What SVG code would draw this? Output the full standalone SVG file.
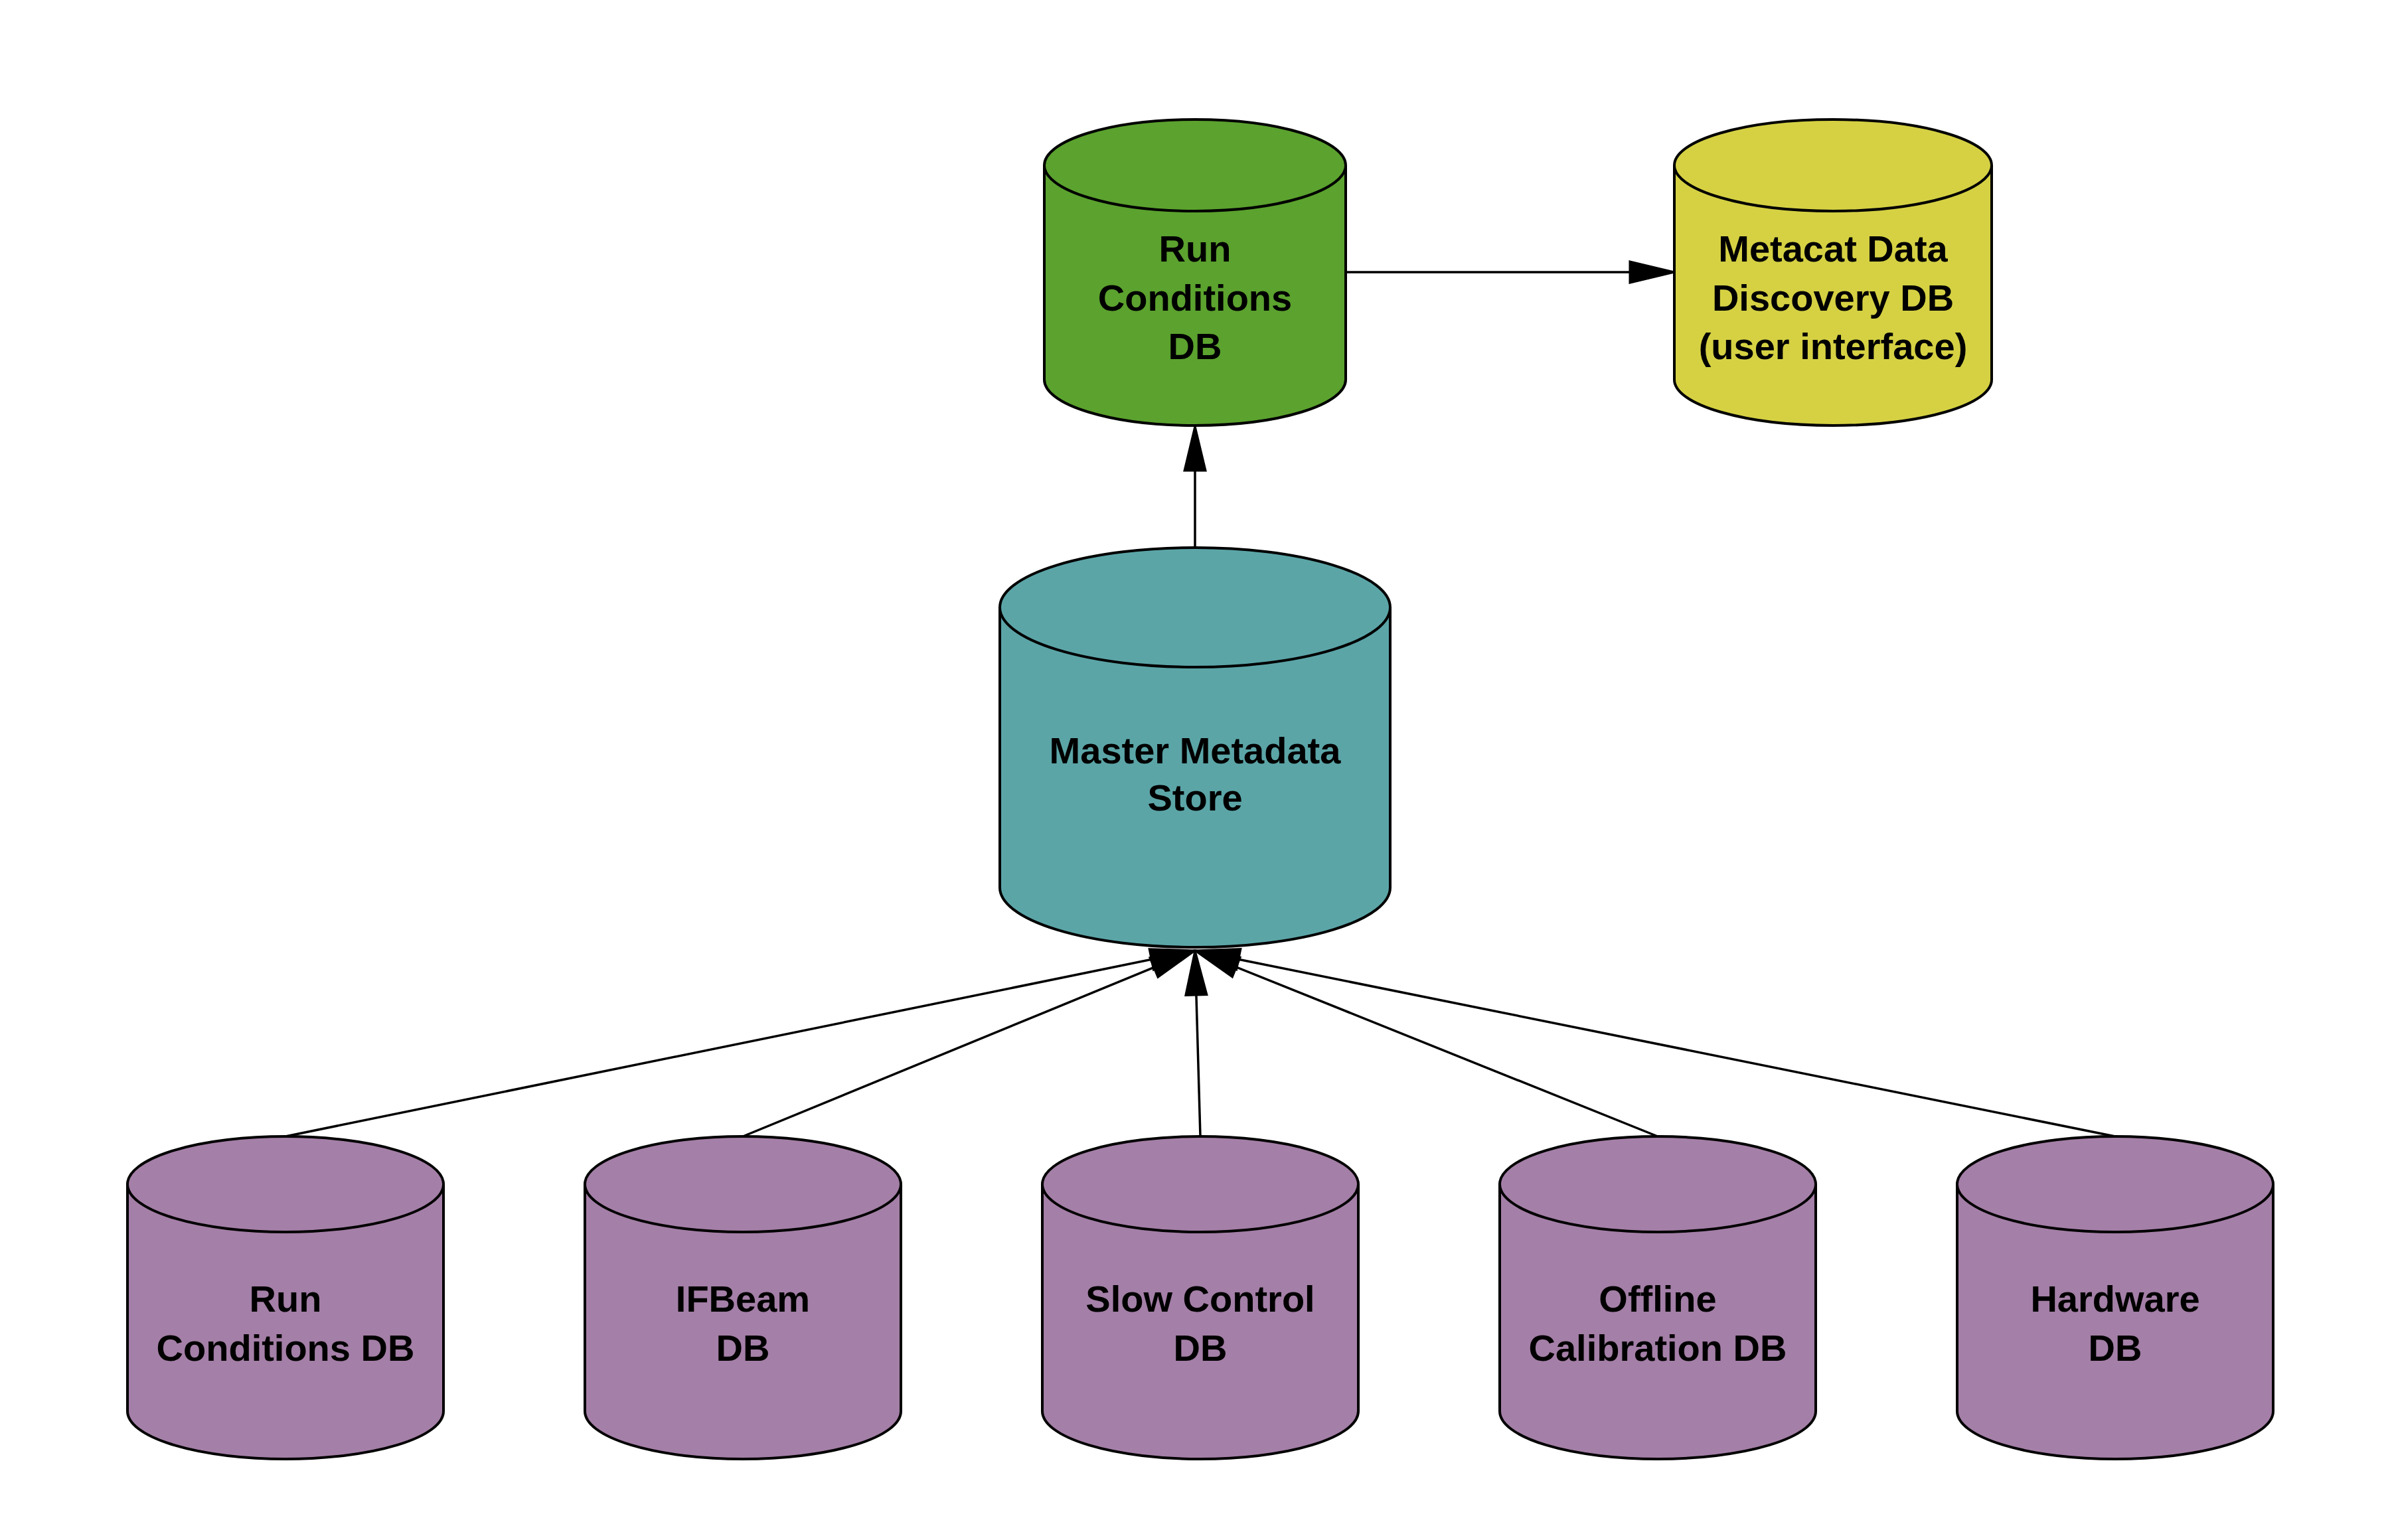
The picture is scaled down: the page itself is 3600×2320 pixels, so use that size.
<svg xmlns="http://www.w3.org/2000/svg" width="3600" height="2320" viewBox="0 0 3600 2320">
<defs>
<style>
.cyl{stroke:#000;stroke-width:4;stroke-linejoin:round}
.cap{fill:none;stroke:#000;stroke-width:4}
.green{fill:#5ba22e}
.yellow{fill:#d5d143}
.teal{fill:#5ba5a7}
.purple{fill:#a47fa7}
.lbl{font-family:"Liberation Sans",Arial,Helvetica,sans-serif;font-weight:bold;font-size:56px;fill:#000;text-anchor:middle}
.edge{stroke:#000;stroke-width:3.5;fill:none}
</style>
<marker id="arr" markerUnits="userSpaceOnUse" markerWidth="80" markerHeight="44" refX="70" refY="22" orient="auto">
<path d="M3,6 L70,22 L3,38 Z" fill="#000" stroke="#000" stroke-width="3"/>
</marker>
</defs>
<rect width="3600" height="2320" fill="#fff"/>
<g id="edges">
<line class="edge" x1="1800" y1="825" x2="1800" y2="642" marker-end="url(#arr)"/>
<line class="edge" x1="2027" y1="410" x2="2522" y2="410" marker-end="url(#arr)"/>
<line class="edge" x1="430" y1="1712" x2="1800" y2="1432" marker-end="url(#arr)"/>
<line class="edge" x1="1119" y1="1712" x2="1800" y2="1432" marker-end="url(#arr)"/>
<line class="edge" x1="1808" y1="1712" x2="1800" y2="1432" marker-end="url(#arr)"/>
<line class="edge" x1="2497" y1="1712" x2="1800" y2="1432" marker-end="url(#arr)"/>
<line class="edge" x1="3186" y1="1712" x2="1800" y2="1432" marker-end="url(#arr)"/>
</g>
<g id="run-conditions-top">
<path class="cyl green" d="M1573,249 A227,69 0 0 1 2027,249 L2027,572 A227,69 0 0 1 1573,572 Z"/>
<path class="cap" d="M1573,249 A227,69 0 0 0 2027,249"/>
<text class="lbl" x="1800" y="394">Run</text>
<text class="lbl" x="1800" y="468">Conditions</text>
<text class="lbl" x="1800" y="541">DB</text>
</g>
<g id="metacat">
<path class="cyl yellow" d="M2522,249 A239,69 0 0 1 3000,249 L3000,572 A239,69 0 0 1 2522,572 Z"/>
<path class="cap" d="M2522,249 A239,69 0 0 0 3000,249"/>
<text class="lbl" x="2761" y="394">Metacat Data</text>
<text class="lbl" x="2761" y="468">Discovery DB</text>
<text class="lbl" x="2761" y="541">(user interface)</text>
</g>
<g id="master">
<path class="cyl teal" d="M1506,915 A294,90 0 0 1 2094,915 L2094,1337 A294,90 0 0 1 1506,1337 Z"/>
<path class="cap" d="M1506,915 A294,90 0 0 0 2094,915"/>
<text class="lbl" x="1800" y="1150">Master Metadata</text>
<text class="lbl" x="1800" y="1221">Store</text>
</g>
<g id="run-conditions-src">
<path class="cyl purple" d="M192,1784 A238,72 0 0 1 668,1784 L668,2126 A238,72 0 0 1 192,2126 Z"/>
<path class="cap" d="M192,1784 A238,72 0 0 0 668,1784"/>
<text class="lbl" x="430" y="1976">Run</text>
<text class="lbl" x="430" y="2050">Conditions DB</text>
</g>
<g id="ifbeam">
<path class="cyl purple" d="M881,1784 A238,72 0 0 1 1357,1784 L1357,2126 A238,72 0 0 1 881,2126 Z"/>
<path class="cap" d="M881,1784 A238,72 0 0 0 1357,1784"/>
<text class="lbl" x="1119" y="1976">IFBeam</text>
<text class="lbl" x="1119" y="2050">DB</text>
</g>
<g id="slow-control">
<path class="cyl purple" d="M1570,1784 A238,72 0 0 1 2046,1784 L2046,2126 A238,72 0 0 1 1570,2126 Z"/>
<path class="cap" d="M1570,1784 A238,72 0 0 0 2046,1784"/>
<text class="lbl" x="1808" y="1976">Slow Control</text>
<text class="lbl" x="1808" y="2050">DB</text>
</g>
<g id="offline-calibration">
<path class="cyl purple" d="M2259,1784 A238,72 0 0 1 2735,1784 L2735,2126 A238,72 0 0 1 2259,2126 Z"/>
<path class="cap" d="M2259,1784 A238,72 0 0 0 2735,1784"/>
<text class="lbl" x="2497" y="1976">Offline</text>
<text class="lbl" x="2497" y="2050">Calibration DB</text>
</g>
<g id="hardware">
<path class="cyl purple" d="M2948,1784 A238,72 0 0 1 3424,1784 L3424,2126 A238,72 0 0 1 2948,2126 Z"/>
<path class="cap" d="M2948,1784 A238,72 0 0 0 3424,1784"/>
<text class="lbl" x="3186" y="1976">Hardware</text>
<text class="lbl" x="3186" y="2050">DB</text>
</g>
</svg>
